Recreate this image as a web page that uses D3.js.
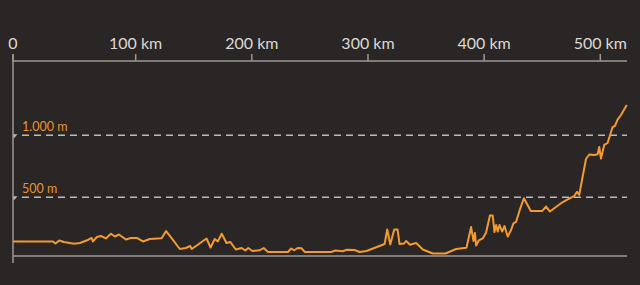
<html>
  <head>
    <meta charset="utf-8">
    <title>Höhenprofil</title>
    <script src="https://d3js.org/d3.v7.min.js"></script>
    <style>
      html, body { margin: 0; padding: 0; background: #2a2625; }
      svg { display: block; }
    </style>
  </head>
  <body>
    <script>
      // distance (km)
      var distKm = [-5.6, 28.8, 31.0, 34.2, 38.3, 46.9, 52.0, 58.9, 62.1, 63.2, 66.6, 70.1, 74.4, 78.7, 82.1, 85.6,
        91.6, 95.9, 101.0, 106.2, 112.2, 122.3, 126.2, 131.1, 138.0, 143.2, 147.0, 148.3, 161.0, 164.5, 168.1,
        170.7, 174.1, 178.2, 181.4, 186.2, 191.3, 194.3, 196.9, 200.5, 206.8, 210.2, 213.9, 231.1, 233.9, 236.5,
        239.5, 242.9, 245.5, 268.4, 271.9, 278.4, 281.6, 288.5, 292.8, 298.8, 314.3, 316.6, 319.2, 322.6, 325.5,
        327.2, 331.0, 332.9, 336.2, 341.5, 347.2, 355.8, 366.7, 375.9, 384.8, 388.8, 390.8, 392.1, 393.1, 395.4,
        398.8, 401.7, 405.0, 407.4, 408.9, 410.3, 411.7, 413.2, 415.5, 417.5, 420.3, 423.2, 425.2, 427.5, 430.4,
        434.2, 440.2, 450.1, 453.4, 456.6, 466.5, 470.8, 474.8, 477.6, 480.0, 481.9, 484.1, 487.7, 490.5, 494.8,
        497.7, 499.1, 500.6, 503.4, 506.3, 510.6, 512.6, 514.9, 517.8, 522.8];
      // elevation (m)
      var elevM = [144, 144, 127, 152, 140, 126, 131, 156, 172, 144, 180, 188, 168, 206, 184, 200,
        160, 172, 172, 144, 164, 169, 228, 168, 83, 91, 107, 83, 168, 95, 164,
        144, 206, 131, 140, 79, 91, 71, 91, 67, 73, 91, 59, 59, 87, 73,
        91, 89, 59, 59, 71, 65, 77, 75, 59, 67, 123, 240, 119, 240, 240,
        123, 127, 148, 118, 131, 79, 47, 47, 83, 93, 260, 148, 212, 111, 152,
        168, 216, 353, 353, 220, 277, 224, 277, 224, 269, 184, 236, 289, 301, 390,
        492, 390, 390, 426, 385, 454, 478, 497, 510, 545, 519, 631, 809, 845, 841,
        847, 906, 813, 922, 938, 1067, 1075, 1126, 1164, 1244];

      var kmTicks = [0, 100, 200, 300, 400, 500];
      var elevTicks = [500, 1000];

      var width = 640;
      var height = 285;

      var de = d3.formatLocale({ decimal: ",", thousands: ".", grouping: [3], currency: ["", " €"] });
      var fmtM = de.format(",");

      var x = d3.scaleLinear().domain([-5.6, 523]).range([13, 627]);
      var y = d3.scaleLinear().domain([0, 1000]).range([259.3, 135.3]);
      var axisTop = 61;
      var axisBottom = 256;

      var svg = d3.select("body").append("svg")
        .attr("width", width)
        .attr("height", height);

      svg.append("rect")
        .attr("width", width)
        .attr("height", height)
        .attr("fill", "#2a2625");

      // dashed elevation guides
      var guides = svg.append("g");
      guides.selectAll("line")
        .data(elevTicks)
        .enter()
        .append("line")
        .attr("x1", 22).attr("x2", x.range()[1])
        .attr("y1", function(d) { return y(d); })
        .attr("y2", function(d) { return y(d); })
        .attr("stroke", "#bdb9b5")
        .attr("stroke-width", 1.5)
        .attr("stroke-dasharray", "7,5");

      guides.selectAll("path")
        .data(elevTicks)
        .enter()
        .append("path")
        .attr("d", function(d) {
          var yy = y(d);
          return "M13," + (yy - 1) + "L17.5," + (yy - 1) + "L13.5," + (yy + 3.5) + "Z";
        })
        .attr("fill", "#bdb9b5");

      guides.selectAll("text")
        .data(elevTicks)
        .enter()
        .append("text")
        .attr("x", 22)
        .attr("y", function(d) { return y(d) - 4; })
        .attr("font-family", "Lato, 'DejaVu Sans', sans-serif")
        .attr("font-size", 12.5)
        .attr("fill", "#e8942e")
        .text(function(d) { return fmtM(d) + " m"; });

      // frame lines
      svg.append("line")
        .attr("x1", x.range()[0]).attr("x2", x.range()[1])
        .attr("y1", axisTop).attr("y2", axisTop)
        .attr("stroke", "#9c9894").attr("stroke-width", 1.5);
      svg.append("line")
        .attr("x1", x.range()[0]).attr("x2", x.range()[1])
        .attr("y1", axisBottom).attr("y2", axisBottom)
        .attr("stroke", "#9c9894").attr("stroke-width", 1.5);
      svg.append("line")
        .attr("x1", x.range()[0]).attr("x2", x.range()[0])
        .attr("y1", 54).attr("y2", 263)
        .attr("stroke", "#9c9894").attr("stroke-width", 1.5);

      // distance ticks (0 sits on the origin)
      function tickX(d) { return d === 0 ? x.range()[0] : x(d); }
      var ticks = svg.append("g").selectAll("g")
        .data(kmTicks)
        .enter()
        .append("g")
        .attr("transform", function(d) { return "translate(" + tickX(d) + ",0)"; });
      ticks.append("line")
        .attr("y1", 54).attr("y2", axisTop)
        .attr("stroke", "#9c9894").attr("stroke-width", 1.5);
      ticks.append("text")
        .attr("y", 49)
        .attr("text-anchor", "middle")
        .attr("font-family", "Lato, 'DejaVu Sans', sans-serif")
        .attr("font-size", 16)
        .attr("fill", "#dcd8d3")
        .text(function(d) { return d === 0 ? "0" : d + " km"; });

      // elevation profile
      var line = d3.line()
        .x(function(d, i) { return x(distKm[i]); })
        .y(function(d) { return y(d); });

      svg.append("path")
        .datum(elevM)
        .attr("d", line)
        .attr("fill", "none")
        .attr("stroke", "#f39a30")
        .attr("stroke-width", 2)
        .attr("stroke-linejoin", "round");
    </script>
  </body>
</html>
